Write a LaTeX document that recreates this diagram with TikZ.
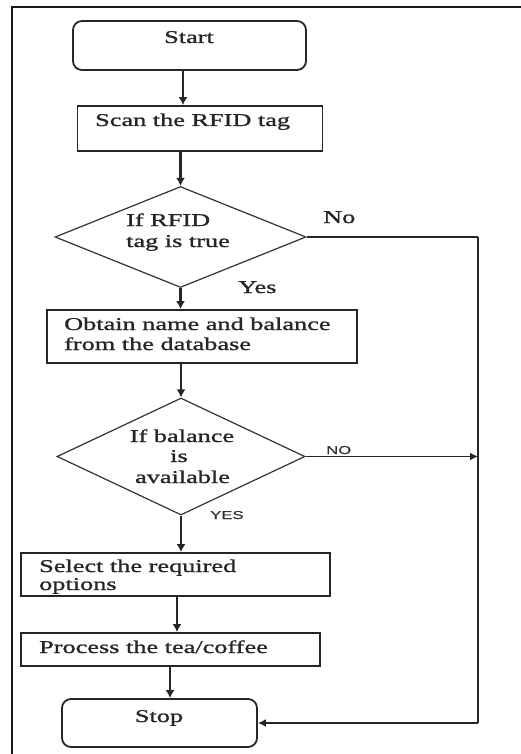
\documentclass[tikz,border=0pt]{standalone}
\usepackage{fontspec}
\setmainfont{Liberation Serif}[FakeStretch=1.46,FakeBold=1.2]
\newfontfamily\lblsans{Liberation Sans}[FakeStretch=1.45,FakeBold=0.6]
\usetikzlibrary{shapes.geometric,arrows.meta}
\tikzset{
  boxshape/.style={draw=black!85, line width=1.8pt, rectangle, inner sep=0pt},
  termshape/.style={boxshape, rounded corners=9pt},
  decshape/.style={draw=black!80, line width=1.2pt, diamond, inner sep=0pt},
  txt/.style={anchor=base west, inner sep=0pt, font=\fontsize{18}{20}\selectfont, text=black!85},
  ctxt/.style={txt, anchor=base},
  stxt/.style={anchor=base west, inner sep=0pt, font=\lblsans\fontsize{11.5}{13}\selectfont, text=black!80},
  arr/.style={draw=black!85, line width=2.4pt, -{Latex[length=8pt,width=9pt]}},
  harr/.style={draw=black!85, line width=1.5pt, -{Latex[length=8pt,width=8pt]}},
  hline/.style={draw=black!85, line width=1.5pt},
}
\begin{document}
\begin{tikzpicture}[x=1pt,y=-1pt]
\useasboundingbox (0,0) rectangle (520,754);
% frame
\draw[line width=2.2pt, black!90] (12,760) -- (12,7) -- (526,7);
% shapes
\node[termshape, minimum width=233pt, minimum height=49pt] (start) at (189.5,45.5) {};
\node[boxshape, minimum width=245pt, minimum height=45pt] (scan) at (200,128.5) {};
\node[decshape, minimum width=251pt, minimum height=101pt] (d1) at (180.5,237) {};
\node[boxshape, minimum width=310pt, minimum height=53pt] (obtain) at (202,336.5) {};
\node[decshape, minimum width=248pt, minimum height=117pt] (d2) at (181,456.5) {};
\node[boxshape, minimum width=309pt, minimum height=43pt] (select) at (175.5,574.5) {};
\node[boxshape, minimum width=299pt, minimum height=33pt] (process) at (170.5,649.5) {};
\node[termshape, minimum width=195pt, minimum height=48pt] (stop) at (159.5,723) {};
% texts
\node[ctxt] (tstart) at (189,43) {Start};
\node[txt] (tscan) at (95,126) {Scan the RFID tag};
\node[txt] (td1a) at (126,226) {If RFID};
\node[txt] (td1b) at (126,247) {tag is true};
\node[txt] (tobt1) at (64,330) {Obtain name and balance};
\node[txt] (tobt2) at (64,350) {from the database};
\node[ctxt] (td2a) at (182,442) {If balance};
\node[ctxt] (td2b) at (179,462) {is};
\node[ctxt] (td2c) at (182.5,483) {available};
\node[txt] (tsel1) at (39,572) {Select the required};
\node[txt] (tsel2) at (39,590) {options};
\node[txt] (tproc) at (39,653) {Process the tea/coffee};
\node[ctxt] (tstop) at (159,722) {Stop};
\node[txt] (lno) at (323,223) {No};
\node[txt] (lyes) at (238,293) {Yes};
\node[stxt] (lNO) at (326,454) {NO};
\node[stxt] (lYES) at (210,519) {YES};
% helper x positions
\coordinate (ax1) at (183,0);
\coordinate (ax2) at (177,0);
\coordinate (ax3) at (170,0);
\coordinate (rx) at (478,0);
% connectors
\draw[arr] (start.south -| ax1) -- (scan.north -| ax1);
\draw[arr] (scan.south -| d1.north) -- (d1.north);
\draw[arr] (d1.south) -- (obtain.north -| d1.south);
\draw[arr] (obtain.south -| d2.north) -- (d2.north);
\draw[arr] (d2.south) -- (select.north -| d2.south);
\draw[arr] (select.south -| ax2) -- (process.north -| ax2);
\draw[arr] (process.south -| ax3) -- (stop.north -| ax3);
\draw[hline] (d1.east) -- (d1.east -| rx);
\draw[line width=2.4pt, black!85] (d1.east -| rx) -- (stop.east -| rx);
\draw[harr] (stop.east -| rx) -- (stop.east);
\draw[harr] (d2.east) -- (d2.east -| rx);
\end{tikzpicture}
\end{document}
